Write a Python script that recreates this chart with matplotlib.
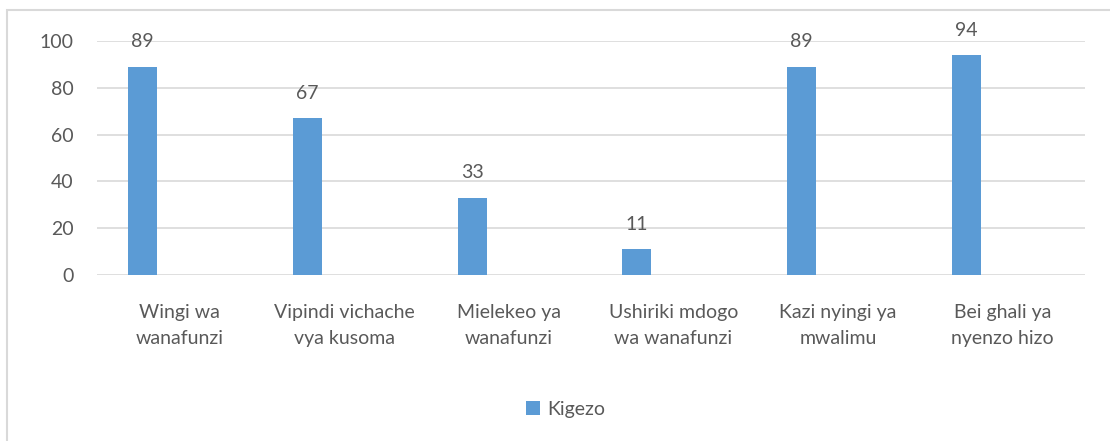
import matplotlib
matplotlib.use("Agg")
import matplotlib.pyplot as plt
from matplotlib.patches import Rectangle
import numpy as np

categories = ["Wingi wa\nwanafunzi", "Vipindi vichache\nvya kusoma", "Mielekeo ya\nwanafunzi",
              "Ushiriki mdogo\nwa wanafunzi", "Kazi nyingi ya\nmwalimu", "Bei ghali ya\nnyenzo hizo"]
values = [89, 67, 33, 11, 89, 94]
series_name = "Kigezo"
yticks = [0, 20, 40, 60, 80, 100]

plt.rcParams['font.family'] = ['Lato', 'DejaVu Sans']
TXT = '#595959'
BAR = '#5b9bd5'
GRID = '#d9d9d9'
FS = 14

W, H = 1110, 441
fig = plt.figure(figsize=(W/100, H/100), dpi=100)
fig.patches.append(Rectangle((7/W, -0.2), 1.2, 1.2 - 10/H, transform=fig.transFigure,
                             fill=False, edgecolor=GRID, linewidth=1.5, zorder=0))

left, right, top, bottom = 97, 1085, 41, 275
ax = fig.add_axes([left/W, 1 - bottom/H, (right-left)/W, (bottom-top)/H])

x = np.arange(len(categories))
bars = ax.bar(x - 0.222, values, width=0.176, color=BAR, zorder=3, label=series_name)
for xi, v in zip(x, values):
    ax.annotate(str(v), (xi - 0.222, v), xytext=(0, 18), textcoords='offset points',
                ha='center', va='center', fontsize=FS, color=TXT)

ax.set_xlim(-0.5, len(categories) - 0.5)
ax.set_ylim(0, 100)
ax.set_yticks(yticks)
ax.set_xticks(x)
ax.set_xticklabels(categories, fontsize=FS, color=TXT, linespacing=1.6)
ax.tick_params(axis='y', labelsize=FS, colors=TXT, length=0, pad=17)
ax.tick_params(axis='x', length=0, pad=21)
ax.grid(axis='y', color=GRID, linewidth=1.2, zorder=0)
for s in ax.spines.values():
    s.set_visible(False)

fig.legend(handles=[bars], labels=[series_name], loc='center', bbox_to_anchor=(566/W, 1 - 409/H),
           frameon=False, fontsize=FS, labelcolor=TXT, handlelength=0.7, handleheight=0.7,
           handletextpad=0.4)

fig.savefig("out.png", dpi=100)
